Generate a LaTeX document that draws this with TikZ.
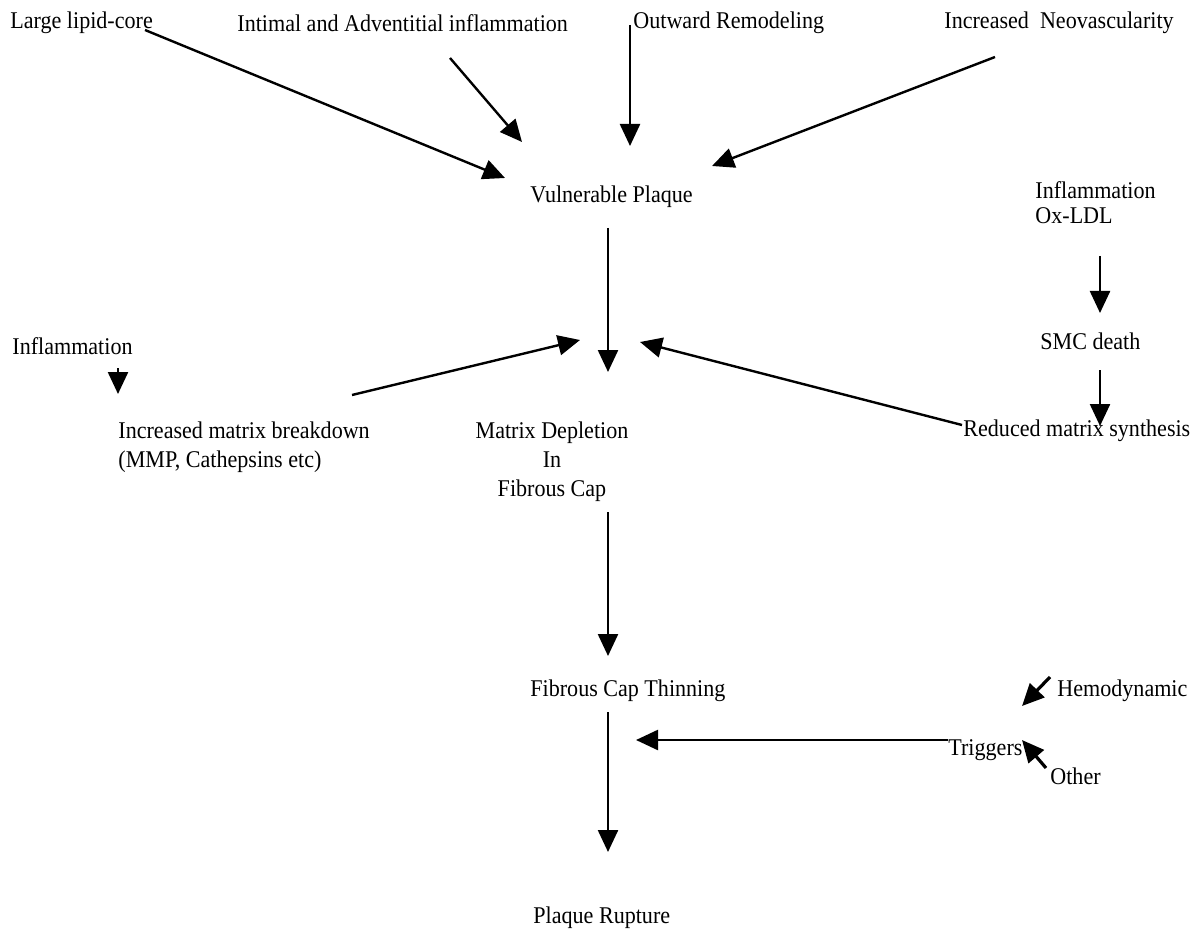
\documentclass[tikz,border=0pt]{standalone}
\usepackage{fontspec}
\setmainfont[FakeStretch=0.92]{Liberation Serif}
\usetikzlibrary{arrows.meta}
\tikzset{
  lbl/.style={inner sep=0pt, anchor=west, align=left, font=\fontsize{12}{14.5}\selectfont},
  cause/.style={-{Triangle[length=11pt,width=10pt]}, line width=1.2pt},
}
\begin{document}
\begin{tikzpicture}[x=0.5pt, y=-0.5pt]
\useasboundingbox (0,0) rectangle (1203,935);
\node [lbl] (lipid) at (10,23) {Large lipid-core};
\node [lbl] (intimal) at (237,23) {Intimal and Adventitial inflammation};
\node [lbl] (outward) at (633,23) {Outward Remodeling};
\node [lbl] (neovasc) at (944,23) {Increased\ \ Neovascularity};
\node [lbl] (vulnerable) at (530,197) {Vulnerable Plaque};
\node [lbl] (oxldl) at (1035,203) {Inflammation\\[-2pt]Ox-LDL};
\node [lbl] (smc) at (1040,341) {SMC death};
\node [lbl] (reduced) at (963,431) {Reduced matrix synthesis};
\node [lbl] (inflam) at (12,346) {Inflammation};
\node [lbl] (breakdown) at (118,447) {Increased matrix breakdown\\(MMP, Cathepsins etc)};
\node [lbl, anchor=center, align=center] (depletion) at (552,462) {Matrix Depletion\\In\\Fibrous Cap};
\node [lbl] (thinning) at (530,691) {Fibrous Cap Thinning};
\node [lbl] (hemo) at (1057,691) {Hemodynamic};
\node [lbl] (triggers) at (948,750) {Triggers};
\node [lbl] (other) at (1050,776) {Other};
\node [lbl] (rupture) at (533,918) {Plaque Rupture};

\coordinate (c1a) at (145,30);  \coordinate (c1b) at (505,178);
\coordinate (c2a) at (450,58);  \coordinate (c2b) at (522,142);
\coordinate (c3a) at (630,25);  \coordinate (c3b) at (630,146);
\coordinate (c4a) at (995,57);  \coordinate (c4b) at (712,166);
\coordinate (v1a) at (608,228); \coordinate (v1b) at (608,372);
\coordinate (r1a) at (1100,256); \coordinate (r1b) at (1100,313);
\coordinate (r2a) at (1100,370); \coordinate (r2b) at (1100,426);
\coordinate (r3a) at (962,425); \coordinate (r3b) at (640,342);
\coordinate (l1a) at (352,395); \coordinate (l1b) at (580,340);
\coordinate (l2a) at (118,368); \coordinate (l2b) at (118,394);
\coordinate (v2a) at (608,512); \coordinate (v2b) at (608,656);
\coordinate (v3a) at (608,712); \coordinate (v3b) at (608,852);
\coordinate (t1a) at (948,740); \coordinate (t1b) at (636,740);
\coordinate (h1a) at (1050,677); \coordinate (h1b) at (1022,706);
\coordinate (o1a) at (1046,768); \coordinate (o1b) at (1022,740);

\draw [cause] (c1a) -- (c1b);
\draw [cause] (c2a) -- (c2b);
\draw [cause] (c3a) -- (c3b);
\draw [cause] (c4a) -- (c4b);
\draw [cause] (v1a) -- (v1b);
\draw [cause] (r1a) -- (r1b);
\draw [cause] (r2a) -- (r2b);
\draw [cause] (r3a) -- (r3b);
\draw [cause] (l1a) -- (l1b);
\draw [cause] (l2a) -- (l2b);
\draw [cause] (v2a) -- (v2b);
\draw [cause] (v3a) -- (v3b);
\draw [cause] (t1a) -- (t1b);
\draw [cause, line width=1.6pt] (h1a) -- (h1b);
\draw [cause, line width=1.6pt] (o1a) -- (o1b);
\end{tikzpicture}
\end{document}
